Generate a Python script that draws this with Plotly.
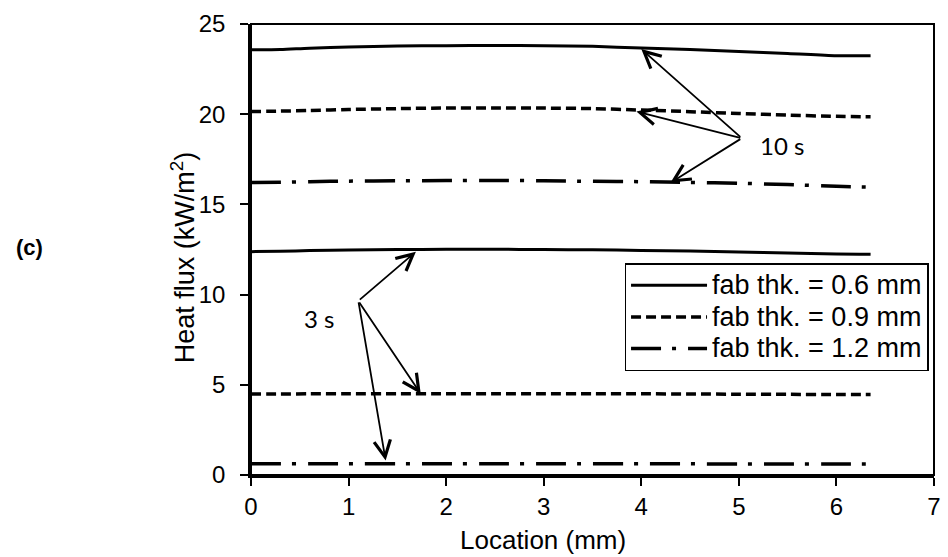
import plotly.graph_objects as go

# Location along the fabric (mm)
location = [0, 0.3, 0.6, 1.0, 1.5, 2.0, 2.5, 3.0, 3.5, 4.0, 4.5, 5.0, 5.5, 6.0, 6.35]

# Heat flux (kW/m2) after 10 s of exposure
flux_10s_06 = [23.57, 23.58, 23.66, 23.72, 23.78, 23.80, 23.81, 23.80, 23.76, 23.67, 23.58, 23.48, 23.37, 23.24, 23.24]
flux_10s_09 = [20.15, 20.17, 20.21, 20.26, 20.31, 20.34, 20.35, 20.34, 20.31, 20.23, 20.14, 20.04, 19.95, 19.88, 19.86]
flux_10s_12 = [16.21, 16.23, 16.26, 16.29, 16.31, 16.32, 16.33, 16.31, 16.28, 16.26, 16.22, 16.17, 16.10, 16.00, 15.96]

# Heat flux (kW/m2) after 3 s of exposure
flux_3s_06 = [12.38, 12.40, 12.44, 12.47, 12.50, 12.51, 12.51, 12.50, 12.48, 12.45, 12.41, 12.36, 12.31, 12.25, 12.24]
flux_3s_09 = [4.49, 4.49, 4.50, 4.50, 4.51, 4.51, 4.51, 4.51, 4.50, 4.50, 4.49, 4.48, 4.47, 4.46, 4.46]
flux_3s_12 = [0.62, 0.62, 0.62, 0.62, 0.62, 0.62, 0.62, 0.62, 0.62, 0.62, 0.62, 0.61, 0.61, 0.61, 0.61]

series_names = ["fab thk. = 0.6 mm", "fab thk. = 0.9 mm", "fab thk. = 1.2 mm"]

AXIS_FONT = "Liberation Sans, Arial, sans-serif"
NOTE_FONT = "Lato, Carlito, sans-serif"

styles = [
    dict(width=3, dash="solid"),
    dict(width=3.5, dash="10px,5px"),
    dict(width=3.5, dash="30px,11px,4px,12px"),
]

fig = go.Figure()
for name, style, (y10, y3) in zip(
    series_names, styles,
    [(flux_10s_06, flux_3s_06), (flux_10s_09, flux_3s_09), (flux_10s_12, flux_3s_12)],
):
    for k, yv in enumerate((y10, y3)):
        fig.add_trace(go.Scatter(
            x=location, y=yv, mode="lines",
            name="<span style='font-size:27px'>%s</span>" % name,
            legendgroup=name, showlegend=(k == 0),
            line=dict(color="black", shape="spline", smoothing=0.8, **style),
        ))

# Arrows pointing from the time labels to their curves
arrow_style = dict(
    xref="x", yref="y", axref="x", ayref="y", text="", showarrow=True,
    arrowhead=5, arrowsize=1.8, arrowwidth=1.8, arrowcolor="black", standoff=0,
)
tail_10s = (5.03, 18.67)
for hx, hy in [(4.0, 23.61), (3.95, 20.15), (4.30, 16.21)]:
    fig.add_annotation(x=hx, y=hy, ax=tail_10s[0], ay=tail_10s[1], **arrow_style)
tail_3s = (1.10, 9.65)
for hx, hy in [(1.69, 12.38), (1.74, 4.49), (1.38, 0.80)]:
    fig.add_annotation(x=hx, y=hy, ax=tail_3s[0], ay=tail_3s[1], **arrow_style)

fig.add_annotation(x=5.44, y=18.25, text="10 s", showarrow=False, xref="x", yref="y",
                   xanchor="center", yanchor="middle",
                   font=dict(family=NOTE_FONT, size=24, color="black"))
fig.add_annotation(x=0.70, y=8.67, text="3 s", showarrow=False, xref="x", yref="y",
                   xanchor="center", yanchor="middle",
                   font=dict(family=NOTE_FONT, size=24, color="black"))

# Axis titles and panel label
fig.add_annotation(x=0.4275, y=-0.144, xref="paper", yref="paper", showarrow=False,
                   text="Location (mm)", xanchor="center", yanchor="middle",
                   font=dict(family=AXIS_FONT, size=26, color="black"))
fig.add_annotation(x=-0.1, y=0.482, xref="paper", yref="paper", showarrow=False,
                   text="Heat flux (kW/m<sup>2</sup>)", textangle=-90,
                   xanchor="center", yanchor="middle",
                   font=dict(family=AXIS_FONT, size=27, color="black"))
fig.add_annotation(x=-0.3246, y=0.5055, xref="paper", yref="paper", showarrow=False,
                   text="<b>(c)</b>", xanchor="center", yanchor="middle",
                   font=dict(family=AXIS_FONT, size=22, color="black"))

# Plot frame
fig.add_shape(type="rect", xref="paper", yref="paper", x0=0, x1=1, y0=0, y1=1,
              line=dict(color="black", width=2), layer="above")

axis_common = dict(
    showgrid=False, zeroline=False, showline=True, linecolor="black", linewidth=2.5,
    ticks="outside", ticklen=8, tickwidth=2, tickcolor="black",
    tickfont=dict(family=AXIS_FONT, size=24, color="black"),
)
fig.update_xaxes(range=[0, 7], dtick=1, tick0=0, **axis_common)
fig.update_yaxes(range=[0, 25], dtick=5, tick0=0, ticklabelstandoff=10, **axis_common)

fig.update_layout(
    width=948, height=557,
    margin=dict(l=251, r=7, t=24, b=82),
    paper_bgcolor="white", plot_bgcolor="white",
    showlegend=True,
    legend=dict(
        x=0.992, xanchor="right", y=0.470, yanchor="top",
        bgcolor="white", bordercolor="black", borderwidth=1.5,
        font=dict(family=AXIS_FONT, size=22, color="black"),
        itemwidth=76, tracegroupgap=0,
    ),
)

fig.write_html("out.html")
